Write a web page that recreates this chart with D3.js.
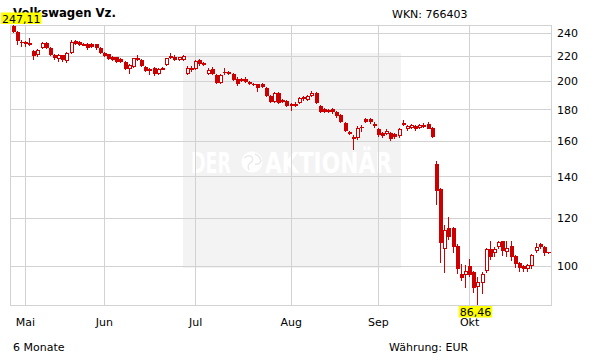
<!DOCTYPE html>
<html>
<head>
<meta charset="utf-8">
<script src="https://cdn.jsdelivr.net/npm/d3@7"></script>
<style>
    body { margin: 0; background: #fff; }
    svg { display: block; font-family: "DejaVu Sans", Verdana, sans-serif; }
</style>
</head>
<body>
<svg id="chart" width="611" height="364"></svg>
<script>
// daily candles, Volkswagen Vz. (6 months)
var openVals = [246.0, 241.0, 232.2, 231.4, 230.8, 224.1, 220.5, 226.3, 231.1, 226.6,
    221.2, 217.9, 220.4, 215.5, 222.4, 232.3, 231.7, 229.3, 230.0, 229.8,
    229.8, 227.0, 222.2, 221.3, 219.3, 218.8, 217.4, 214.7, 209.3, 211.2,
    216.6, 216.6, 211.0, 209.8, 210.5, 205.3, 209.5, 212.7, 219.9, 219.3,
    216.6, 216.6, 205.9, 210.7, 209.8, 216.6, 214.0, 205.7, 209.8, 205.0,
    199.1, 207.5, 207.2, 206.0, 202.1, 200.3, 202.1, 199.4, 198.4, 197.8,
    197.8, 195.0, 189.2, 185.3, 191.8, 186.4, 185.7, 183.4, 182.9, 184.7,
    186.9, 186.6, 189.1, 191.3, 182.1, 180.2, 179.5, 180.2, 178.4, 176.2,
    171.3, 164.1, 161.0, 161.7, 168.6, 173.5, 173.5, 170.3, 167.0, 164.5,
    164.1, 164.5, 163.9, 162.7, 171.4, 167.2, 167.8, 169.0, 167.8, 168.9,
    170.7, 167.8, 146.6, 133.5, 106.5, 115.3, 115.3, 107.8, 97.3, 96.9,
    100.0, 97.7, 92.5, 93.9, 98.2, 106.5, 105.1, 107.5, 109.8, 105.5,
    107.8, 103.8, 101.2, 100.0, 99.1, 100.0, 105.8, 108.6, 107.3, 105.3];
var highVals = [247.11, 241.8, 233.3, 233.0, 235.0, 224.9, 225.5, 232.0, 231.8, 227.4,
    222.0, 221.4, 221.0, 223.0, 233.5, 234.0, 232.8, 231.0, 231.0, 231.0,
    230.5, 227.4, 223.0, 222.0, 220.2, 219.5, 218.3, 215.5, 213.3, 218.7,
    220.5, 217.4, 211.7, 210.5, 211.2, 210.5, 211.0, 218.7, 222.2, 220.5,
    219.5, 220.7, 211.5, 211.5, 216.6, 217.4, 215.0, 210.0, 211.0, 205.5,
    205.5, 210.0, 208.0, 206.5, 203.0, 202.4, 203.0, 200.2, 199.0, 198.4,
    198.5, 195.6, 189.9, 192.0, 192.5, 187.2, 186.4, 184.3, 185.0, 188.6,
    189.5, 190.0, 192.6, 192.3, 182.8, 181.0, 180.2, 181.0, 179.0, 176.9,
    172.0, 166.2, 163.5, 169.0, 170.1, 174.3, 174.2, 171.5, 168.0, 165.3,
    167.0, 165.3, 164.7, 168.2, 173.0, 169.7, 170.3, 169.7, 170.3, 171.0,
    171.5, 168.5, 148.3, 134.0, 116.6, 120.2, 116.0, 108.5, 101.0, 100.4,
    102.9, 98.3, 96.0, 97.9, 107.2, 110.0, 107.5, 110.0, 110.0, 110.0,
    110.0, 104.3, 101.6, 100.6, 101.0, 104.6, 108.9, 109.1, 107.8, 105.5];
var lowVals = [239.5, 229.1, 227.5, 227.4, 228.7, 216.6, 219.5, 225.5, 225.7, 220.3,
    217.0, 215.4, 214.8, 214.6, 221.8, 229.5, 228.3, 228.0, 225.0, 226.5,
    224.9, 221.5, 219.2, 216.6, 215.5, 214.0, 214.2, 208.6, 206.0, 210.5,
    215.8, 211.3, 207.0, 204.7, 203.9, 204.5, 208.6, 211.7, 217.2, 215.8,
    215.8, 215.8, 204.5, 207.5, 209.0, 212.2, 211.7, 205.0, 204.7, 198.0,
    198.0, 204.7, 205.0, 200.0, 196.5, 199.5, 198.5, 197.6, 196.5, 192.3,
    195.2, 188.8, 184.5, 184.5, 183.5, 184.3, 181.5, 179.0, 182.0, 184.0,
    186.0, 185.7, 188.5, 183.5, 177.6, 177.6, 177.6, 177.0, 174.6, 171.0,
    165.4, 163.3, 154.5, 160.5, 165.5, 171.0, 170.7, 168.0, 162.5, 162.0,
    163.3, 160.2, 161.0, 162.0, 169.0, 166.3, 167.0, 166.0, 167.0, 168.0,
    167.0, 161.5, 125.7, 101.1, 97.4, 110.5, 104.9, 97.3, 94.5, 92.1,
    96.0, 90.5, 86.46, 90.0, 97.5, 102.3, 103.6, 106.7, 103.8, 103.5,
    101.8, 99.4, 97.7, 97.7, 98.0, 99.1, 104.9, 106.5, 104.0, 104.8];
var closeVals = [241.0, 232.8, 231.5, 232.0, 229.6, 219.6, 224.6, 231.3, 226.6, 221.1,
    218.3, 220.4, 216.4, 222.2, 232.1, 230.5, 229.3, 230.0, 226.4, 227.8,
    226.4, 222.2, 220.1, 217.7, 216.6, 215.1, 215.1, 209.8, 212.5, 218.0,
    218.0, 212.1, 208.0, 208.0, 205.5, 209.8, 210.1, 218.0, 218.0, 216.6,
    218.8, 219.9, 210.7, 208.6, 216.0, 213.1, 212.5, 209.0, 205.7, 199.1,
    204.7, 207.0, 205.9, 200.9, 197.8, 201.6, 199.6, 198.4, 197.2, 195.2,
    196.0, 189.4, 185.3, 191.3, 184.1, 185.2, 182.3, 182.4, 184.0, 187.9,
    188.5, 189.2, 191.3, 184.1, 178.5, 178.4, 178.4, 178.0, 175.5, 171.8,
    166.3, 165.5, 162.5, 167.8, 167.8, 171.9, 171.5, 169.3, 163.5, 163.0,
    166.1, 161.1, 162.1, 167.4, 169.7, 169.0, 169.7, 167.0, 169.7, 170.1,
    167.6, 162.1, 132.6, 109.0, 114.5, 111.6, 107.4, 99.1, 95.7, 98.1,
    96.9, 92.3, 94.1, 97.1, 106.5, 103.6, 106.5, 109.3, 105.9, 106.9,
    103.6, 101.0, 99.4, 98.8, 100.4, 104.2, 107.5, 107.3, 104.9, 104.9];

var monthLabels = ["Mai", "Jun", "Jul", "Aug", "Sep", "Okt"];
var monthStart = [3, 22, 44, 67, 88, 110];   // index of first trading day
var yTicks = [100, 120, 140, 160, 180, 200, 220, 240];

var svg = d3.select("#chart");
var plot = { left: 10, right: 551, top: 25, bottom: 305 };
var red = "#cc0000", gridColor = "#d2d2d2";
var n = closeVals.length;

var x = d3.scaleLinear().domain([0, n - 1]).range([12.5, 548]);
var y = d3.scaleLog()
    .domain([d3.min(lowVals), d3.max(highVals)])
    .range([plot.bottom, plot.top]);

// watermark
svg.append("rect")
    .attr("x", 183).attr("y", 53).attr("width", 218).attr("height", 215)
    .attr("fill", "#f3f3f3");
var wm = svg.append("g").attr("fill", "#fff").attr("font-weight", "bold").attr("font-size", 28);
wm.append("text").attr("x", 191).attr("y", 173)
    .attr("textLength", 40).attr("lengthAdjust", "spacingAndGlyphs").text("DER");
wm.append("text").attr("x", 265).attr("y", 173)
    .attr("textLength", 127).attr("lengthAdjust", "spacingAndGlyphs").text("AKTIONÄR");
wm.append("circle").attr("cx", 252).attr("cy", 162).attr("r", 10.5);
wm.append("path")
    .attr("d", "M244,158 q4,-4 8,-1 q2,4 -2,6 q-3,2 -1,7 M255,154 q5,2 6,7 q-2,4 -6,3")
    .attr("fill", "none").attr("stroke", "#eaeaea").attr("stroke-width", 1.5);

// gridlines
var grid = svg.append("g").attr("stroke", gridColor).attr("shape-rendering", "crispEdges");
grid.selectAll(".hg").data(yTicks).enter().append("line")
    .attr("x1", plot.left).attr("x2", plot.right)
    .attr("y1", d => Math.round(y(d)) + 0.5).attr("y2", d => Math.round(y(d)) + 0.5);
grid.selectAll(".vg").data(monthStart).enter().append("line")
    .attr("y1", plot.top).attr("y2", plot.bottom)
    .attr("x1", d => Math.round(x(d)) + 0.5).attr("x2", d => Math.round(x(d)) + 0.5);
grid.append("rect")
    .attr("x", plot.left + 0.5).attr("y", plot.top + 0.5)
    .attr("width", plot.right - plot.left).attr("height", plot.bottom - plot.top)
    .attr("fill", "none");

// candles
var candles = svg.append("g").attr("shape-rendering", "crispEdges");
d3.range(n).forEach(function (i) {
    var o = openVals[i], c = closeVals[i];
    var cx = Math.round(x(i));
    var top = Math.round(y(Math.max(o, c))), bot = Math.round(y(Math.min(o, c)));
    candles.append("line")
        .attr("x1", cx + 0.5).attr("x2", cx + 0.5)
        .attr("y1", y(highVals[i])).attr("y2", y(lowVals[i]))
        .attr("stroke", red);
    if (c < o) {
        candles.append("rect")
            .attr("x", cx - 1).attr("y", top)
            .attr("width", 4).attr("height", Math.max(bot - top, 1))
            .attr("fill", red);
    } else {
        candles.append("rect")
            .attr("x", cx - 0.5).attr("y", top + 0.5)
            .attr("width", 3).attr("height", Math.max(bot - top - 1, 1))
            .attr("fill", "#fff").attr("stroke", red);
    }
});

// axes
var yAxis = svg.append("g")
    .attr("transform", "translate(" + plot.right + ",0)")
    .call(d3.axisRight(y).tickValues(yTicks).tickFormat(d3.format("d")).tickSize(0).tickPadding(6));
var xAxis = svg.append("g")
    .attr("transform", "translate(0," + plot.bottom + ")")
    .call(d3.axisBottom(x).tickValues(monthStart).tickFormat((d, i) => monthLabels[i]).tickSize(0).tickPadding(13));
[yAxis, xAxis].forEach(function (a) {
    a.select(".domain").remove();
    a.selectAll("text").attr("font-size", 11).attr("fill", "#000")
        .attr("font-family", "DejaVu Sans, Verdana, sans-serif");
});

// titles
svg.append("text").attr("x", 13).attr("y", 17)
    .attr("font-size", 11.7).attr("font-weight", "bold").text("Volkswagen Vz.");
svg.append("text").attr("x", 392).attr("y", 18).attr("font-size", 11).text("WKN: 766403");
svg.append("text").attr("x", 13).attr("y", 351).attr("font-size", 11).text("6 Monate");
svg.append("text").attr("x", 389).attr("y", 351).attr("font-size", 11).text("Währung: EUR");

// high / low markers (drawn over the title / month label as in the original)
function marker(val, idx, above) {
    var g = svg.append("g");
    var t = g.append("text").attr("font-size", 11).text(d3.format(".2f")(val).replace(".", ","));
    var w = t.node().getComputedTextLength() + 2;
    var left = Math.max(1, x(idx) - 2 - w / 2);
    var boxTop = above ? y(val) - 12.5 : y(val) + 1;
    g.insert("rect", "text").attr("x", left).attr("y", boxTop)
        .attr("width", w).attr("height", 11.5).attr("fill", "#ffff00");
    t.attr("x", left + 1).attr("y", boxTop + 10);
}
var hiIdx = d3.maxIndex(highVals), loIdx = d3.minIndex(lowVals);
marker(highVals[hiIdx], hiIdx, true);
marker(lowVals[loIdx], loIdx, false);
</script>
</body>
</html>
